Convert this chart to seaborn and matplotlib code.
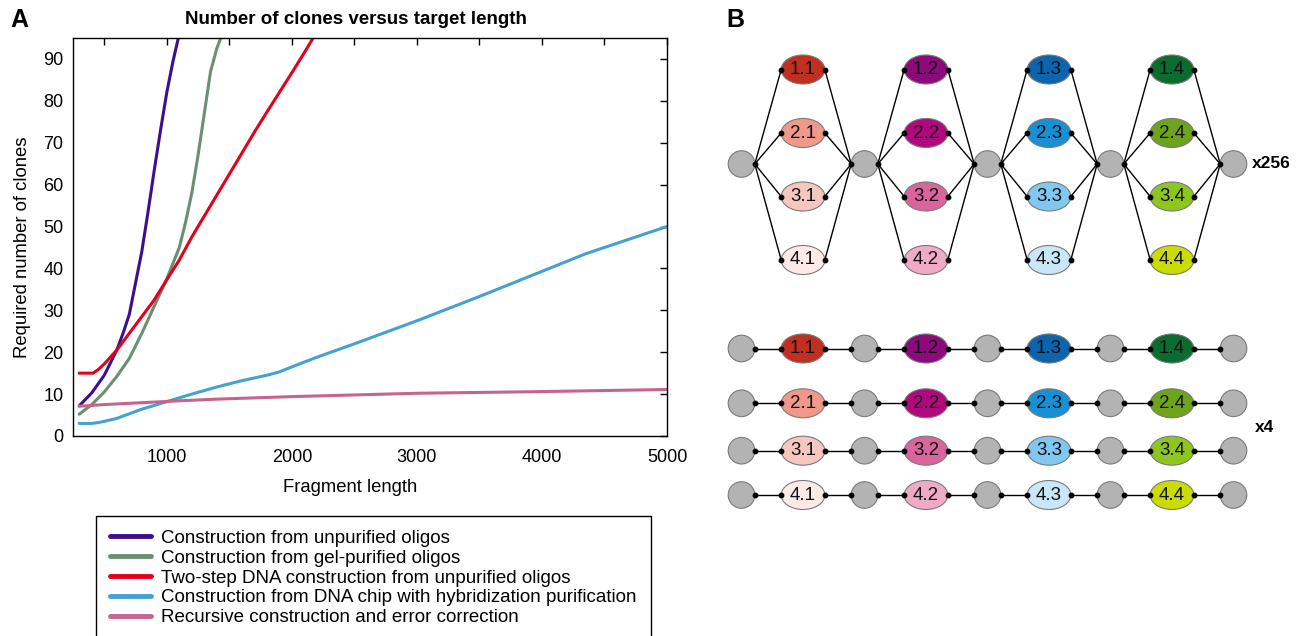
import numpy as np
import pandas as pd
import seaborn as sns
import matplotlib.pyplot as plt
from matplotlib.patches import Ellipse
from matplotlib.lines import Line2D

# ---- panel A data ----
methods = ['Construction from unpurified oligos',
           'Construction from gel-purified oligos',
           'Two-step DNA construction from unpurified oligos',
           'Construction from DNA chip with hybridization purification',
           'Recursive construction and error correction']
colors = ['#3d0f8f', '#6b8f73', '#e2001a', '#43a2cf', '#c8638d']

unpurified_x = [300, 400, 500, 600, 650, 700, 750, 800, 850, 900, 950, 1000, 1050, 1100]
unpurified_y = [7.2, 10.3, 14.5, 20.5, 24.5, 29, 36.5, 44, 53.5, 63.5, 73, 82, 89.5, 96]

gel_x = [300, 400, 500, 600, 700, 800, 900, 1000, 1100, 1150, 1200, 1250, 1300, 1350, 1400, 1450]
gel_y = [5.2, 7.5, 10.5, 14.2, 18.5, 24.5, 31, 37.5, 45, 51, 58, 67, 77, 87, 92.5, 96.5]

twostep_x = [300, 410, 450, 500, 600, 700, 800, 900, 1000, 1100, 1200, 1300, 1400,
             1500, 1600, 1700, 1800, 1900, 2000, 2100, 2200]
twostep_y = [15, 15, 15.8, 17.2, 20.5, 24.5, 28.5, 32.5, 37.3, 42, 47.5, 52.5, 57.5,
             62.5, 67.5, 72.5, 77.3, 82, 86.7, 91.5, 96.5]

chip_x = [300, 400, 450, 500, 600, 700, 800, 900, 1000, 1100, 1200, 1400, 1600, 1800,
          1900, 2000, 2200, 2500, 3000, 3500, 4000, 4350, 4500, 5000]
chip_y = [3, 3, 3.2, 3.5, 4.2, 5.3, 6.4, 7.3, 8.2, 9.1, 10, 11.7, 13.2, 14.5,
          15.3, 16.5, 18.8, 22, 27.5, 33.3, 39.3, 43.5, 45, 50]

recursive_x = [300, 400, 500, 700, 900, 1100, 1400, 1700, 2000, 2500, 3000, 3500, 4000, 4500, 5000]
recursive_y = [7.1, 7.3, 7.5, 7.8, 8.1, 8.4, 8.8, 9.1, 9.4, 9.8, 10.2, 10.4, 10.6, 10.85, 11.1]

series_x = [unpurified_x, gel_x, twostep_x, chip_x, recursive_x]
series_y = [unpurified_y, gel_y, twostep_y, chip_y, recursive_y]

# ---- panel B data ----
node_colors = [['#c12f20', '#8c0a7c', '#0b65ae', '#0a6d2f'],
               ['#f0998b', '#b1087d', '#1990d5', '#6ea41b'],
               ['#f6c6c0', '#d9659c', '#80c8f0', '#8dc61e'],
               ['#fde9e5', '#f1aac6', '#cae7f9', '#cadc02']]

sns.set_style('white')
plt.rcParams['font.family'] = ['Liberation Sans', 'DejaVu Sans']
plt.rcParams['text.color'] = 'black'
plt.rcParams['axes.labelcolor'] = 'black'

W, H = 1302, 636
fig = plt.figure(figsize=(W / 100, H / 100), dpi=100)
ax = fig.add_axes([73 / W, 1 - 436 / H, 594 / W, 398 / H])

df = pd.concat([pd.DataFrame({'length': x, 'clones': y, 'method': m})
                for x, y, m in zip(series_x, series_y, methods)])
palette = dict(zip(methods, colors))
sns.lineplot(data=df, x='length', y='clones', hue='method', hue_order=methods,
             palette=palette, linewidth=2.2, estimator=None, legend=False, ax=ax)

ax.set_xlim(250, 5000)
ax.set_ylim(0, 95)
xt = np.arange(500, 5001, 500)
ax.set_xticks(xt)
ax.set_xticklabels([str(v) if v % 1000 == 0 else '' for v in xt])
ax.set_yticks(range(0, 91, 10))
ax.tick_params(direction='in', length=5, width=1, top=True, right=True,
               labelsize=13, pad=7, colors='black')
ax.tick_params(axis='x', pad=9)
for s in ax.spines.values():
    s.set_linewidth(1)
    s.set_color('black')
ax.set_xlabel('Fragment length', fontsize=13.3)
ax.set_ylabel('Required number of clones', fontsize=13.3)
ax.xaxis.set_label_coords(0.466, -0.108)
ax.yaxis.set_label_coords(-0.07, 0.474)

fig.text(356 / W, 1 - 19 / H, 'Number of clones versus target length',
         ha='center', va='center', fontsize=13.5, weight='bold')
fig.text(10 / W, 1 - 20 / H, 'A', ha='left', va='center', fontsize=18, weight='bold')
fig.text(726 / W, 1 - 20 / H, 'B', ha='left', va='center', fontsize=18, weight='bold')

handles = [Line2D([], [], color=c, lw=3.5) for c in colors]
leg = fig.legend(handles, methods, loc='upper left',
                 bbox_to_anchor=(95.5 / W, 1 - 515.5 / H), fontsize=13.5,
                 frameon=True, fancybox=False, edgecolor='black', framealpha=1,
                 borderpad=0.75, handlelength=2.2, handletextpad=0.55,
                 labelspacing=0.15, borderaxespad=0)
leg.get_frame().set_linewidth(1)

# ---- panel B: assembly diagram ----
dax = fig.add_axes([700 / W, 0, 602 / W, 1])
dax.set_xlim(700, 1302)
dax.set_ylim(636, 0)
dax.axis('off')

gx0, gdx = 741.5, 123.0          # gray node positions
R = 13.3                          # gray node radius
EA, EB = 21.8, 14.5               # ellipse half axes
gray_fc, edge_c = '#b3b3b3', '#7a7a7a'


def gray_node(x, y, left_dot, right_dot):
    dax.add_patch(Ellipse((x, y), 2 * R, 2 * R, fc=gray_fc, ec=edge_c, lw=0.8, zorder=2))
    if left_dot:
        dax.plot(x - R, y, 'o', color='black', ms=3.2, zorder=4)
    if right_dot:
        dax.plot(x + R, y, 'o', color='black', ms=3.2, zorder=4)


def color_node(x, y, i, j):
    dax.add_patch(Ellipse((x, y), 2 * EA, 2 * EB, fc=node_colors[i][j], ec=edge_c,
                          lw=0.8, zorder=2))
    dax.text(x, y, f'{i + 1}.{j + 1}', ha='center', va='center', fontsize=13.5,
             color='#111111', zorder=3)
    dax.plot([x - EA, x + EA], [y, y], 'o', color='black', ms=3.2, zorder=4)


# top: parallel network
top_rows = [69.5, 133, 196.5, 260]
yc = 164
for j in range(4):
    gl = gx0 + j * gdx
    gr = gl + gdx
    ex = (gl + gr) / 2
    for i, y in enumerate(top_rows):
        dax.plot([gl + R, ex - EA], [yc, y], color='black', lw=1, zorder=1)
        dax.plot([ex + EA, gr - R], [y, yc], color='black', lw=1, zorder=1)
        color_node(ex, y, i, j)
for k in range(5):
    gray_node(gx0 + k * gdx, yc, k > 0, k < 4)
dax.text(1252, yc, 'x256', ha='left', va='center', fontsize=12.5, weight='bold')

# bottom: serial chains
bottom_rows = [348.5, 403.3, 450.7, 495]
for i, y in enumerate(bottom_rows):
    dax.plot([gx0 + R, gx0 + 4 * gdx - R], [y, y], color='black', lw=1, zorder=1)
    for k in range(5):
        gray_node(gx0 + k * gdx, y, k > 0, k < 4)
    for j in range(4):
        color_node(gx0 + j * gdx + gdx / 2, y, i, j)
dax.text(1255, 427, 'x4', ha='left', va='center', fontsize=12.5, weight='bold')

fig.savefig('out.png', dpi=100)
